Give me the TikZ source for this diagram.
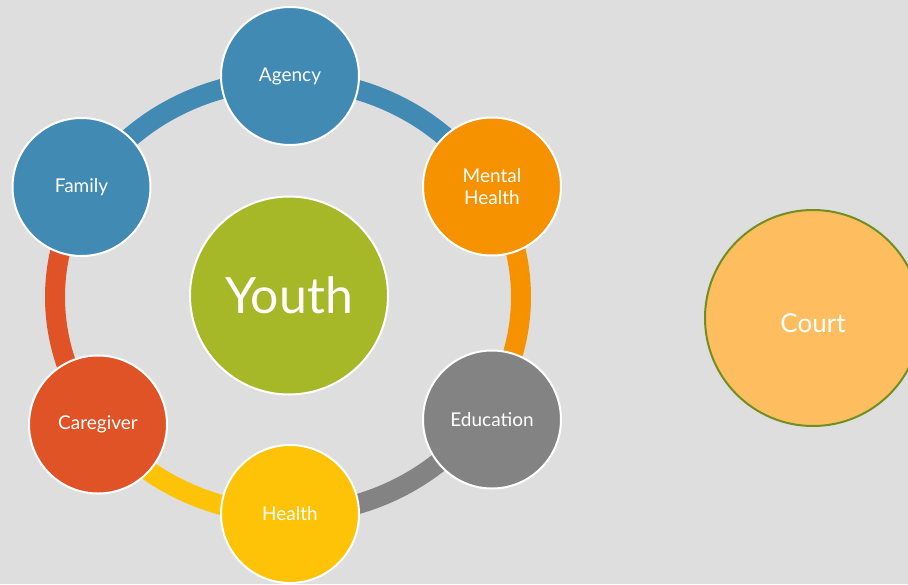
\documentclass[tikz,border=0pt]{standalone}
\usepackage{fontspec}
\setmainfont{Lato}
\definecolor{bg}{HTML}{DEDEDE}
\definecolor{cblue}{HTML}{418AB3}
\definecolor{corange}{HTML}{F69200}
\definecolor{cgray}{HTML}{838383}
\definecolor{cyellow}{HTML}{FEC306}
\definecolor{cred}{HTML}{DF5327}
\definecolor{cgreen}{HTML}{A6B727}
\definecolor{ccourt}{HTML}{FEBE5F}
\definecolor{ccourtb}{HTML}{728E1F}
\tikzset{
  small/.style={circle, draw=white, line width=2pt, minimum size=138pt, inner sep=0pt,
    text=white, align=center, font=\fontsize{19}{22}\selectfont},
  ringseg/.style={line width=20pt},
}
\begin{document}
\begin{tikzpicture}[x=1pt,y=1pt]
\useasboundingbox (0,0) rectangle (908,-584);
\fill[bg] (0,0) rectangle (908,-584);
\coordinate (rc) at (288,-297);
% ring segments
\draw[ringseg, cblue]   (rc) ++(150:233pt and 217pt) arc[start angle=150, end angle=90, x radius=233pt, y radius=217pt];
\draw[ringseg, cblue]   (rc) ++(90:233pt and 217pt) arc[start angle=90, end angle=30, x radius=233pt, y radius=217pt];
\draw[ringseg, corange] (rc) ++(30:233pt and 217pt) arc[start angle=30, end angle=-33, x radius=233pt, y radius=217pt];
\draw[ringseg, cgray]   (rc) ++(-33:233pt and 217pt) arc[start angle=-33, end angle=-90, x radius=233pt, y radius=217pt];
\draw[ringseg, cyellow] (rc) ++(-90:233pt and 217pt) arc[start angle=-90, end angle=-144, x radius=233pt, y radius=217pt];
\draw[ringseg, cred]    (rc) ++(-144:233pt and 217pt) arc[start angle=-144, end angle=-210, x radius=233pt, y radius=217pt];
% nodes
\node[small, fill=cblue]   (agency) at (290,-76) {Agency};
\node[small, fill=corange] (mental) at (492,-186.5) {Mental\\Health};
\node[small, fill=cgray]   (edu) at (492,-419.5) {Education};
\node[small, fill=cyellow] (health) at (290,-514) {Health};
\node[small, fill=cred]    (care) at (98,-424.5) {Caregiver};
\node[small, fill=cblue]   (family) at (81.5,-187) {Family};
\node[circle, draw=white, line width=2pt, minimum size=198pt, inner sep=0pt, fill=cgreen,
  text=white, font=\fontsize{50}{54}\selectfont] (youth) at (289,-295.5) {Youth};
\node[circle, draw=ccourtb, line width=2pt, minimum size=216pt, inner sep=0pt, fill=ccourt,
  text=white, font=\fontsize{26}{30}\selectfont] (court) at (813,-318) {\smash{\raisebox{-14pt}{Court}}};
\end{tikzpicture}
\end{document}
